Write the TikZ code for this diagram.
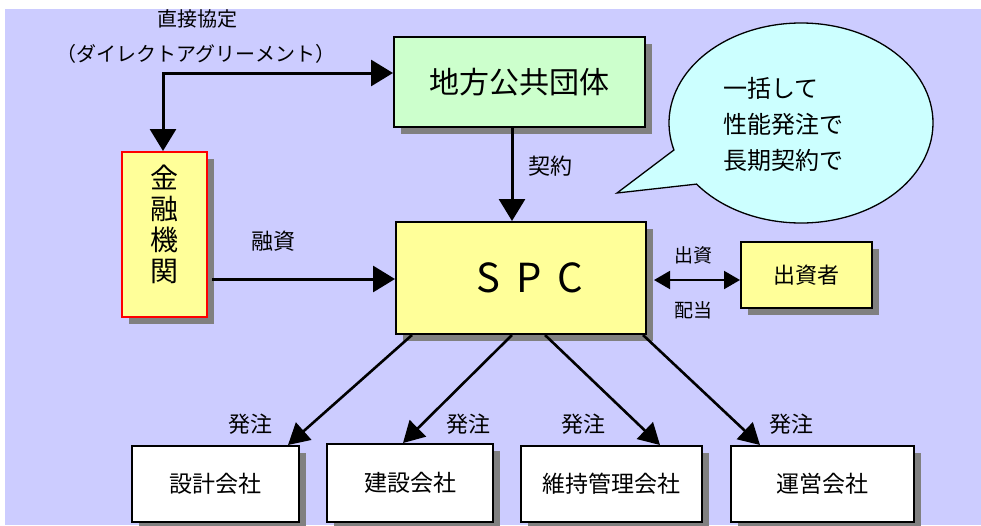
\documentclass[tikz,border=0pt]{standalone}
\usepackage{fontspec}
\setmainfont{Noto Sans CJK JP}
\usetikzlibrary{shadows,shapes.callouts,arrows.meta,calc}
\definecolor{bgc}{HTML}{CCCCFF}
\definecolor{greenc}{HTML}{CCFFCC}
\definecolor{yellowc}{HTML}{FFFF99}
\definecolor{cyanc}{HTML}{CCFFFF}
\definecolor{shadowc}{HTML}{808080}
\tikzset{
  box/.style={draw=black, line width=2pt, inner sep=0pt, align=center,
    drop shadow={shadow xshift=7pt, shadow yshift=-7pt, fill=shadowc, opacity=1}},
  arr/.style={line width=3pt, -{Triangle[length=22pt,width=26pt]}},
  darr/.style={line width=2.6pt, -{Triangle[length=21pt,width=23pt]}},
  dblarr/.style={line width=2pt, {Triangle[length=16pt,width=18pt]}-{Triangle[length=16pt,width=18pt]}},
  lbl/.style={inner sep=0pt, font=\fontsize{21}{24}\selectfont},
  boxtext/.style={font=\fontsize{23}{26}\selectfont}
}
\begin{document}
\begin{tikzpicture}[x=1pt,y=-1pt]
\useasboundingbox (0,0) rectangle (981,525);
\fill[white] (0,0) rectangle (981,525);
\fill[bgc] (5,9) rectangle (981,525);

% callout
\node[ellipse callout, draw=black, line width=1.3pt, fill=cyanc,
  minimum width=264pt, minimum height=200pt, inner sep=0pt,
  callout absolute pointer={(617,193)}, callout pointer arc=22] (bubble) at (801,123) {};
\node[anchor=west, align=left, inner sep=0pt, font=\fontsize{24}{36}\selectfont] (bubbletext) at (723,124) {一括して\\性能発注で\\長期契約で};

% boxes
\node[box, fill=greenc, minimum width=251pt, minimum height=90pt, font=\fontsize{30}{32}\selectfont] (local) at (519.5,82) {地方公共団体};
\node[box, draw=red, fill=yellowc, minimum width=85pt, minimum height=165pt, font=\fontsize{28}{31}\selectfont] (bank) at (164.5,234.5) {\parbox{34pt}{\centering 金\\融\\機\\関\par\vspace{20pt}}};
\node[box, fill=yellowc, minimum width=250pt, minimum height=112pt, font=\fontsize{40}{44}\selectfont] (spc) at (521,278) {\hspace*{18pt}S\hspace{16pt}P\hspace{16pt}C};
\node[box, fill=yellowc, minimum width=131pt, minimum height=66pt, font=\fontsize{22}{26}\selectfont] (inv) at (806.5,275) {出資者};
\node[box, fill=white, minimum width=167pt, minimum height=76pt, boxtext] (b1) at (215.5,484) {設計会社};
\node[box, fill=white, minimum width=166pt, minimum height=78pt, boxtext] (b2) at (410,483) {建設会社};
\node[box, fill=white, minimum width=181pt, minimum height=76pt, boxtext] (b3) at (611.5,484) {維持管理会社};
\node[box, fill=white, minimum width=183pt, minimum height=76pt, boxtext] (b4) at (822.5,484) {運営会社};

% direct agreement
\coordinate (corner) at (163,73);
\draw[line width=3pt, {Triangle[length=22pt,width=26pt]}-{Triangle[length=22pt,width=26pt]}]
  (bank.north -| corner) -- (corner) -- (local.west |- corner);
\node[lbl, font=\fontsize{20}{22}\selectfont] (da1) at (197,19) {直接協定};
\node[lbl, font=\fontsize{20}{22}\selectfont] (da2) at (196,54) {（ダイレクトアグリーメント）};

% contract
\draw[arr] ([xshift=-7.5pt]local.south) -- ([xshift=-7.5pt]local.south |- spc.north);
\node[lbl, font=\fontsize{22}{24}\selectfont] (keiyaku) at (550,166) {契約};

% finance
\coordinate (fy) at (0,279);
\draw[arr] ($(bank.east |- fy)+(4,0)$) -- (spc.west |- fy);
\node[lbl, font=\fontsize{22}{24}\selectfont] (yushi) at (273,241) {融資};

% investment / dividend
\coordinate (iy) at (0,280);
\draw[dblarr] ($(spc.east |- iy)+(7,0)$) -- (inv.west |- iy);
\node[lbl, font=\fontsize{19}{22}\selectfont] (shusshi) at (693,255) {出資};
\node[lbl, font=\fontsize{19}{22}\selectfont] (haito) at (693,310) {配当};

% orders
\draw[darr] ($(spc.south)+(-109,0)$) -- ($(b1.north)+(72.5,0)$);
\draw[darr] ($(spc.south)+(-9,0)$) -- ($(b2.north)+(-7,0)$);
\draw[darr] ($(spc.south)+(24,0)$) -- ($(b3.north)+(48.5,0)$);
\draw[darr] ($(spc.south)+(122,0)$) -- ($(b4.north)+(-62.5,0)$);
\node[lbl, font=\fontsize{22}{24}\selectfont] (h1) at (250,424) {発注};
\node[lbl, font=\fontsize{22}{24}\selectfont] (h2) at (468,424) {発注};
\node[lbl, font=\fontsize{22}{24}\selectfont] (h3) at (583,424) {発注};
\node[lbl, font=\fontsize{22}{24}\selectfont] (h4) at (791,424) {発注};
\end{tikzpicture}
\end{document}
